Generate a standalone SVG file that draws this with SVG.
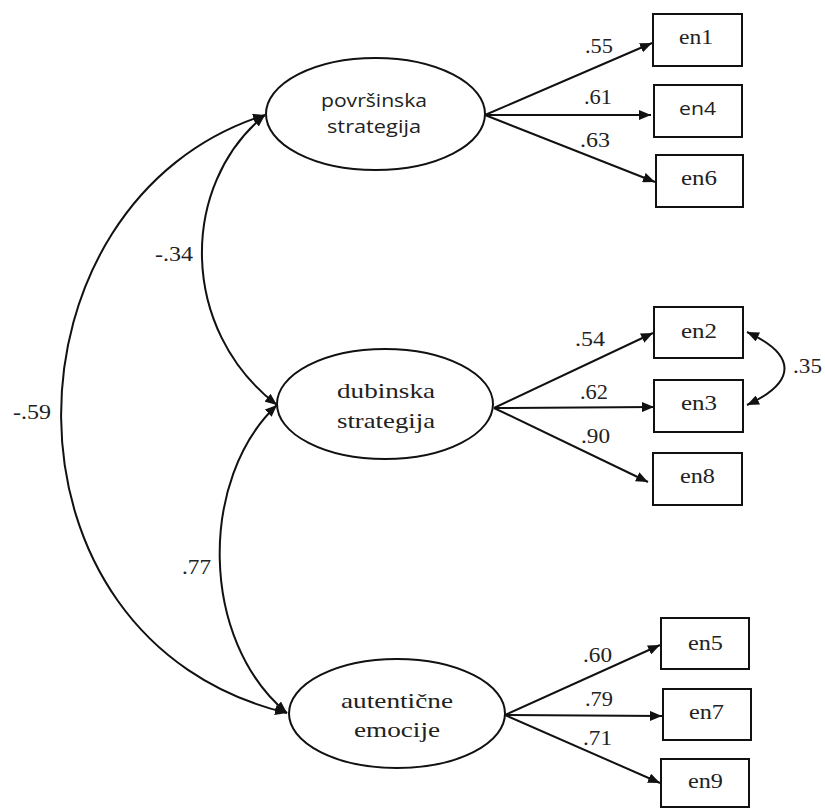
<svg xmlns="http://www.w3.org/2000/svg" width="825" height="809" viewBox="0 0 825 809">
<defs>
<marker id="ah" viewBox="0 0 12 10" refX="12" refY="5" markerWidth="12" markerHeight="10" markerUnits="userSpaceOnUse" orient="auto-start-reverse">
<path d="M0,0 L12,5 L0,10 z" fill="#111"/>
</marker>
<style>
.lat{fill:#fff;stroke:#111;stroke-width:2}
.obs{fill:#fff;stroke:#111;stroke-width:2}
.ser{font-family:"Liberation Serif","Times New Roman",serif;font-size:21px;fill:#222}
.san{font-family:"Open Sans","Liberation Sans",sans-serif;font-size:17.5px;fill:#222}
.num{font-family:"Liberation Serif","Times New Roman",serif;font-size:20.5px;fill:#222}
.ed{fill:none;stroke:#111;stroke-width:2;marker-end:url(#ah)}
.cv{fill:none;stroke:#111;stroke-width:2;marker-start:url(#ah);marker-end:url(#ah)}
</style>
</defs>
<rect width="825" height="809" fill="#fff"/>

<g id="connectors">
<path class="ed" d="M485,115 L652,43"/>
<path class="ed" d="M485,115 L651,115"/>
<path class="ed" d="M485,115 L655,182"/>
<path class="ed" d="M494,408 L653,333"/>
<path class="ed" d="M494,408 L654,407"/>
<path class="ed" d="M494,408 L648,482"/>
<path class="ed" d="M505,715 L660,645"/>
<path class="ed" d="M505,715 L662,716"/>
<path class="ed" d="M505,715 L660,783"/>
<path class="cv" d="M265,115 C-5,200 -16,640 287,713"/>
<path class="cv" d="M265,115 C179,185 179,330 277,405"/>
<path class="cv" d="M277,405 C199,478 199,640 287,713"/>
<path class="cv" d="M747,332 C797,355 797,382 747,405"/>
<text class="num" x="155" y="261" textLength="38" lengthAdjust="spacingAndGlyphs">-.34</text>
<text class="num" x="13" y="419" textLength="38" lengthAdjust="spacingAndGlyphs">-.59</text>
<text class="num" x="182" y="574" textLength="29" lengthAdjust="spacingAndGlyphs">.77</text>
<text class="num" x="585" y="53" textLength="28" lengthAdjust="spacingAndGlyphs">.55</text>
<text class="num" x="584" y="104" textLength="28" lengthAdjust="spacingAndGlyphs">.61</text>
<text class="num" x="580" y="147" textLength="30" lengthAdjust="spacingAndGlyphs">.63</text>
<text class="num" x="575" y="346" textLength="30" lengthAdjust="spacingAndGlyphs">.54</text>
<text class="num" x="580" y="399" textLength="28" lengthAdjust="spacingAndGlyphs">.62</text>
<text class="num" x="581" y="443" textLength="29" lengthAdjust="spacingAndGlyphs">.90</text>
<text class="num" x="793" y="373" textLength="29" lengthAdjust="spacingAndGlyphs">.35</text>
<text class="num" x="583" y="662" textLength="29" lengthAdjust="spacingAndGlyphs">.60</text>
<text class="num" x="585" y="706" textLength="28" lengthAdjust="spacingAndGlyphs">.79</text>
<text class="num" x="583" y="745" textLength="29" lengthAdjust="spacingAndGlyphs">.71</text>
</g>

<g id="povrsinska">
<ellipse class="lat" cx="375.5" cy="114" rx="109.5" ry="56"/>
<text class="san" x="321" y="107" textLength="106" lengthAdjust="spacingAndGlyphs">površinska</text>
<text class="san" x="327" y="133" textLength="94" lengthAdjust="spacingAndGlyphs">strategija</text>
</g>
<g id="dubinska">
<ellipse class="lat" cx="385" cy="404" rx="108" ry="55"/>
<text class="ser" x="337" y="398" textLength="98" lengthAdjust="spacingAndGlyphs">dubinska</text>
<text class="ser" x="337" y="428" textLength="98" lengthAdjust="spacingAndGlyphs">strategija</text>
</g>
<g id="autenticne">
<ellipse class="lat" cx="397" cy="713.5" rx="108" ry="54.5"/>
<text class="ser" x="341" y="708" textLength="112" lengthAdjust="spacingAndGlyphs">autentične</text>
<text class="ser" x="354" y="737" textLength="86" lengthAdjust="spacingAndGlyphs">emocije</text>
</g>

<g id="en1"><rect class="obs" x="653" y="14" width="89" height="52"/><text class="ser" x="679" y="44" textLength="34" lengthAdjust="spacingAndGlyphs">en1</text></g>
<g id="en4"><rect class="obs" x="654" y="85" width="88" height="52"/><text class="san" x="679" y="115" textLength="37" lengthAdjust="spacingAndGlyphs">en4</text></g>
<g id="en6"><rect class="obs" x="656" y="155" width="87" height="52"/><text class="ser" x="681" y="185" textLength="36" lengthAdjust="spacingAndGlyphs">en6</text></g>
<g id="en2"><rect class="obs" x="654" y="307" width="89" height="51"/><text class="ser" x="681" y="338" textLength="36" lengthAdjust="spacingAndGlyphs">en2</text></g>
<g id="en3"><rect class="obs" x="654" y="380" width="89" height="52"/><text class="ser" x="681" y="410" textLength="36" lengthAdjust="spacingAndGlyphs">en3</text></g>
<g id="en8"><rect class="obs" x="653" y="453" width="89" height="52"/><text class="ser" x="680" y="483" textLength="35" lengthAdjust="spacingAndGlyphs">en8</text></g>
<g id="en5"><rect class="obs" x="661" y="618" width="88" height="51"/><text class="ser" x="688" y="650" textLength="35" lengthAdjust="spacingAndGlyphs">en5</text></g>
<g id="en7"><rect class="obs" x="663" y="689" width="88" height="51"/><text class="ser" x="689" y="719" textLength="35" lengthAdjust="spacingAndGlyphs">en7</text></g>
<g id="en9"><rect class="obs" x="661" y="759" width="88" height="48"/><text class="ser" x="688" y="788" textLength="35" lengthAdjust="spacingAndGlyphs">en9</text></g>
</svg>
